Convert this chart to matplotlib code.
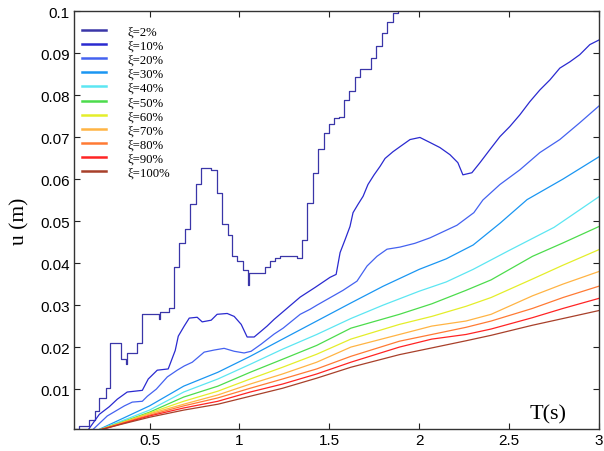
import matplotlib
matplotlib.use("Agg")
import matplotlib.pyplot as plt

# ---------------- data ----------------
labels = ["ξ=2%", "ξ=10%", "ξ=20%", "ξ=30%", "ξ=40%", "ξ=50%",
          "ξ=60%", "ξ=70%", "ξ=80%", "ξ=90%", "ξ=100%"]
colors = ["#3a36a8", "#2a2ad0", "#4462f0", "#1a96f2", "#5ce6f2", "#4cdc4c",
          "#e4ee2a", "#ffb444", "#ff7a34", "#ff2424", "#a8402a"]

# xi = 2 % (stepped curve)
T_xi2 = [0.08, 0.110, 0.165, 0.199, 0.221, 0.260, 0.282, 0.343, 0.371, 0.375,
         0.432, 0.460, 0.554, 0.560, 0.610, 0.638, 0.665, 0.699, 0.726, 0.760,
         0.788, 0.843, 0.876, 0.904, 0.938, 0.960, 0.988, 1.021, 1.049, 1.055,
         1.143, 1.171, 1.199, 1.226, 1.321, 1.349, 1.376, 1.410, 1.438, 1.471,
         1.499, 1.526, 1.554, 1.582, 1.610, 1.643, 1.671, 1.732, 1.760, 1.793,
         1.821, 1.854, 1.880]
u_xi2 = [0.0006, 0.0012, 0.0026, 0.0048, 0.0079, 0.0102, 0.0209, 0.0171, 0.0159, 0.0186,
         0.0209, 0.0278, 0.0266, 0.0283, 0.0292, 0.0390, 0.0447, 0.0482, 0.0540, 0.0589,
         0.0627, 0.0622, 0.0566, 0.0492, 0.0466, 0.0416, 0.0406, 0.0383, 0.0347, 0.0376,
         0.0390, 0.0404, 0.0411, 0.0416, 0.0411, 0.0456, 0.0544, 0.0615, 0.0672, 0.0710,
         0.0732, 0.0746, 0.0748, 0.0789, 0.0810, 0.0844, 0.0862, 0.0889, 0.0917, 0.0948,
         0.0974, 0.0995, 0.1050]

T_xi10 = [0.154, 0.221, 0.276, 0.321, 0.376, 0.460, 0.493, 0.543, 0.604, 0.643,
          0.660, 0.693, 0.721, 0.765, 0.793, 0.843, 0.876, 0.932, 0.971, 1.010,
          1.043, 1.082, 1.121, 1.154, 1.193, 1.338, 1.421, 1.504, 1.538, 1.560,
          1.588, 1.615, 1.632, 1.660, 1.688, 1.715, 1.749, 1.782, 1.810, 1.854,
          1.893, 1.949, 2.004, 2.060, 2.115, 2.171, 2.215, 2.243, 2.293, 2.338,
          2.393, 2.449, 2.504, 2.560, 2.615, 2.671, 2.727, 2.782, 2.838, 2.893,
          2.949, 3.000]
u_xi10 = [0.0, 0.0040, 0.0058, 0.0076, 0.0093, 0.0097, 0.0124, 0.0145, 0.0148, 0.0192,
          0.0226, 0.0250, 0.0269, 0.0271, 0.0260, 0.0264, 0.0278, 0.0280, 0.0273, 0.0254,
          0.0224, 0.0224, 0.0238, 0.0250, 0.0266, 0.0319, 0.0342, 0.0366, 0.0373, 0.0425,
          0.0456, 0.0487, 0.0520, 0.0540, 0.0559, 0.0587, 0.0610, 0.0630, 0.0649, 0.0665,
          0.0677, 0.0694, 0.0699, 0.0687, 0.0675, 0.0658, 0.0639, 0.0610, 0.0615, 0.0639,
          0.0670, 0.0701, 0.0725, 0.0753, 0.0784, 0.0812, 0.0836, 0.0864, 0.0879, 0.0896,
          0.0920, 0.0931]

T_xi20 = [0.176, 0.265, 0.360, 0.404, 0.460, 0.488, 0.538, 0.599, 0.654, 0.693,
          0.738, 0.804, 0.860, 0.915, 0.971, 1.026, 1.065, 1.121, 1.193, 1.243,
          1.338, 1.393, 1.432, 1.576, 1.654, 1.710, 1.765, 1.821, 1.893, 1.976,
          2.060, 2.210, 2.304, 2.354, 2.449, 2.560, 2.671, 2.782, 2.893, 3.000]
u_xi20 = [0.0, 0.0036, 0.0060, 0.0069, 0.0071, 0.0083, 0.0100, 0.0129, 0.0145, 0.0155,
          0.0164, 0.0188, 0.0193, 0.0197, 0.0190, 0.0186, 0.0190, 0.0207, 0.0231, 0.0245,
          0.0278, 0.0290, 0.0300, 0.0335, 0.0357, 0.0393, 0.0416, 0.0433, 0.0438, 0.0447,
          0.0460, 0.0490, 0.0520, 0.0550, 0.0587, 0.0622, 0.0663, 0.0694, 0.0734, 0.0774]

T_xi30 = [0.20, 0.35, 0.50, 0.69, 0.88, 1.06, 1.24, 1.43, 1.62, 1.80, 2.00, 2.15,
          2.30, 2.45, 2.60, 2.80, 3.00]
u_xi30 = [0.0, 0.0030, 0.0060, 0.0107, 0.0140, 0.0178, 0.0219, 0.0262, 0.0305, 0.0345,
          0.0385, 0.0410, 0.0443, 0.0495, 0.0551, 0.0600, 0.0653]

T_xi40 = [0.20, 0.35, 0.50, 0.69, 0.88, 1.06, 1.24, 1.43, 1.62, 1.80, 2.00, 2.15,
          2.30, 2.50, 2.75, 3.00]
u_xi40 = [0.0, 0.0025, 0.0050, 0.0093, 0.0124, 0.0159, 0.0195, 0.0230, 0.0268, 0.0300,
          0.0333, 0.0355, 0.0385, 0.0430, 0.0485, 0.0558]

T_low = [0.20, 0.35, 0.50, 0.69, 0.88, 1.06, 1.24, 1.43, 1.62, 1.89, 2.07, 2.26,
         2.40, 2.63, 2.80, 3.00]
u_xi50 = [0.0, 0.0022, 0.0045, 0.0081, 0.0107, 0.0140, 0.0171, 0.0204, 0.0245, 0.0278,
          0.0303, 0.0335, 0.0360, 0.0416, 0.0448, 0.0487]
u_xi60 = [0.0, 0.0021, 0.0043, 0.0071, 0.0095, 0.0124, 0.0152, 0.0183, 0.0219, 0.0254,
          0.0273, 0.0297, 0.0318, 0.0362, 0.0395, 0.0432]
u_xi70 = [0.0, 0.0020, 0.0041, 0.0064, 0.0086, 0.0112, 0.0136, 0.0164, 0.0200, 0.0230,
          0.0250, 0.0262, 0.0278, 0.0322, 0.0350, 0.0380]
u_xi80 = [0.0, 0.0019, 0.0038, 0.0060, 0.0079, 0.0102, 0.0124, 0.0148, 0.0178, 0.0214,
          0.0230, 0.0247, 0.0262, 0.0292, 0.0318, 0.0345]
u_xi90 = [0.0, 0.0018, 0.0036, 0.0055, 0.0071, 0.0093, 0.0112, 0.0136, 0.0164, 0.0200,
          0.0219, 0.0230, 0.0243, 0.0270, 0.0292, 0.0316]
u_xi100 = [0.0, 0.0017, 0.0033, 0.0050, 0.0064, 0.0083, 0.0102, 0.0126, 0.0152, 0.0182,
           0.0198, 0.0215, 0.0228, 0.0252, 0.0268, 0.0287]

x_ticks = [0.5, 1, 1.5, 2, 2.5, 3]
x_tick_labels = ["0.5", "1", "1.5", "2", "2.5", "3"]
y_ticks = [0.01, 0.02, 0.03, 0.04, 0.05, 0.06, 0.07, 0.08, 0.09, 0.1]
y_tick_labels = ["0.01", "0.02", "0.03", "0.04", "0.05", "0.06", "0.07", "0.08", "0.09", "0.1"]

# ---------------- plot ----------------
fig = plt.figure(figsize=(6.04, 4.52), dpi=100)
ax = fig.add_axes([74 / 604, 22 / 452, 525 / 604, 418 / 452])

series = [
    (T_xi2, u_xi2), (T_xi10, u_xi10), (T_xi20, u_xi20), (T_xi30, u_xi30),
    (T_xi40, u_xi40), (T_low, u_xi50), (T_low, u_xi60), (T_low, u_xi70),
    (T_low, u_xi80), (T_low, u_xi90), (T_low, u_xi100),
]
for i, ((t, u), lab, col) in enumerate(zip(series, labels, colors)):
    kw = dict(drawstyle="steps-post") if i == 0 else {}
    ax.plot(t, u, color=col, lw=0.9, label=lab, **kw)

ax.set_xlim(0.08, 3.0)
ax.set_ylim(0.0005, 0.1)
ax.set_xticks(x_ticks)
ax.set_xticklabels(x_tick_labels)
ax.set_yticks(y_ticks)
ax.set_yticklabels(y_tick_labels)
ax.tick_params(direction="in", length=4, width=0.8, top=True, right=True,
               labelsize=11, colors="#222222", pad=3)
for lab in ax.get_xticklabels() + ax.get_yticklabels():
    lab.set_fontfamily("Liberation Sans")
    lab.set_color("black")
for s in ax.spines.values():
    s.set_color("#333333")
    s.set_linewidth(1.0)

ax.set_ylabel("u (m)", fontfamily="Liberation Serif", fontsize=15.5, labelpad=8)
ax.text(0.903, 0.012, "T(s)", transform=ax.transAxes, ha="center", va="bottom",
        fontfamily="Liberation Serif", fontsize=16)

leg = ax.legend(loc="upper left", bbox_to_anchor=(0.015, 0.966), frameon=False,
                prop={"family": "Liberation Serif", "size": 9.2},
                handlelength=1.9, handletextpad=1.65, labelspacing=0.17,
                borderpad=0.0, borderaxespad=0.0)
for h in leg.get_lines():
    h.set_linewidth(1.8)

fig.savefig("out.png", dpi=100)
